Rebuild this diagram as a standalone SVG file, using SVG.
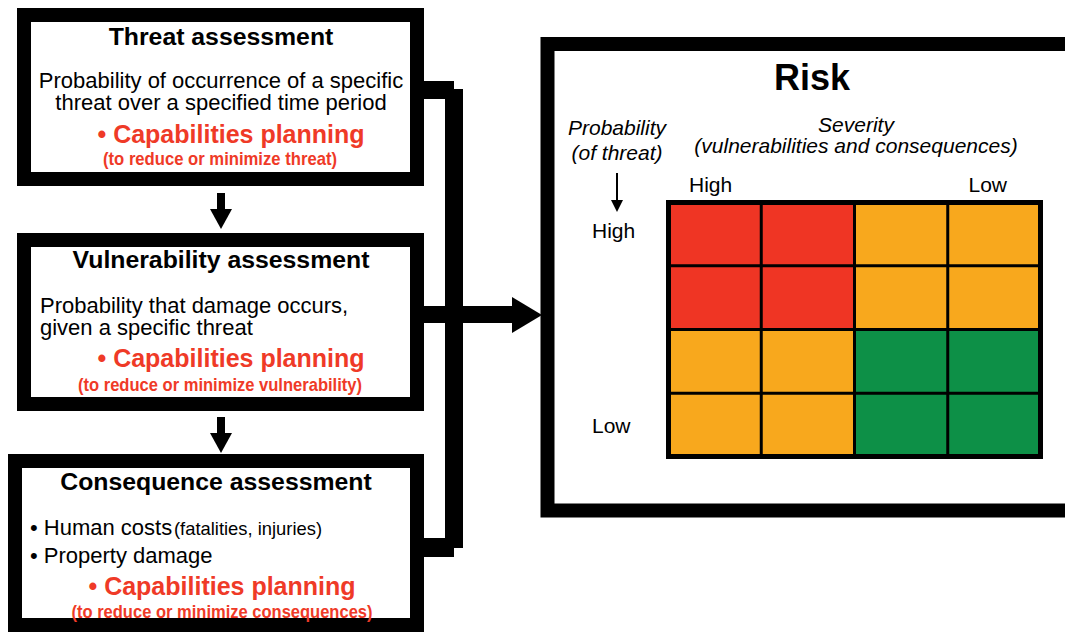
<svg xmlns="http://www.w3.org/2000/svg" width="1065" height="635" viewBox="0 0 1065 635">
<style>
text{font-family:"Liberation Sans",Arial,sans-serif;fill:#000}
.box{fill:#fff;stroke:#000;stroke-width:14}
.ttl{font-weight:bold;font-size:24.8px;text-anchor:middle}
.body{font-size:22px}
.cap{font-weight:bold;font-size:25px;fill:#ef3a27}
.sub{font-weight:bold;font-size:19px;fill:#ef3a27}
.ax{font-size:21px}
.it{font-style:italic;font-size:21px;text-anchor:middle}
.r{fill:#ef3524}.o{fill:#f8a81d}.g{fill:#0d9047}
</style>
<g id="threat">
<rect class="box" x="24" y="15" width="393" height="164"/>
<text class="ttl" x="221" y="45">Threat assessment</text>
<text class="body" x="221" y="88" text-anchor="middle">Probability of occurrence of a specific</text>
<text class="body" x="221" y="110" text-anchor="middle">threat over a specified time period</text>
<text class="cap" x="231" y="143" text-anchor="middle">• Capabilities planning</text>
<text class="sub" x="220" y="165" text-anchor="middle" textLength="234" lengthAdjust="spacingAndGlyphs">(to reduce or minimize threat)</text>
</g>
<g id="vulnerability">
<rect class="box" x="24" y="240" width="393" height="164"/>
<text class="ttl" x="221" y="268">Vulnerability assessment</text>
<text class="body" x="40" y="313">Probability that damage occurs,</text>
<text class="body" x="40" y="335">given a specific threat</text>
<text class="cap" x="231" y="367" text-anchor="middle">• Capabilities planning</text>
<text class="sub" x="220" y="391" text-anchor="middle" textLength="284" lengthAdjust="spacingAndGlyphs">(to reduce or minimize vulnerability)</text>
</g>
<g id="consequence">
<rect class="box" x="15" y="461" width="402" height="164"/>
<text class="ttl" x="216" y="490">Consequence assessment</text>
<text class="body" x="30" y="535">• Human costs <tspan x="174" font-size="19px" textLength="148" lengthAdjust="spacingAndGlyphs">(fatalities, injuries)</tspan></text>
<text class="body" x="30" y="563">• Property damage</text>
<text class="cap" x="222" y="595" text-anchor="middle">• Capabilities planning</text>
<text class="sub" x="222" y="618" text-anchor="middle" textLength="301" lengthAdjust="spacingAndGlyphs">(to reduce or minimize consequences)</text>
</g>
<g id="risk">
<rect class="box" x="547.5" y="44" width="540" height="466.5" stroke-width="13.5"/>
<text x="812" y="90" font-size="36px" font-weight="bold" text-anchor="middle">Risk</text>
<text class="it" x="617" y="135">Probability</text>
<text class="it" x="617" y="160">(of threat)</text>
<text class="it" x="856" y="132">Severity</text>
<text class="it" x="856" y="153">(vulnerabilities and consequences)</text>
<text class="ax" x="689" y="192">High</text>
<text class="ax" x="1007" y="192" text-anchor="end">Low</text>
<text class="ax" x="592" y="238">High</text>
<text class="ax" x="592" y="433">Low</text>
<line x1="617" y1="173" x2="617" y2="202" stroke="#000" stroke-width="2"/>
<polygon points="611,200 623,200 617,212" fill="#000"/>
<g id="grid">
<rect class="r" x="668" y="202" width="93.25" height="63.75"/>
<rect class="r" x="761.25" y="202" width="93.25" height="63.75"/>
<rect class="o" x="854.5" y="202" width="93.25" height="63.75"/>
<rect class="o" x="947.75" y="202" width="93.25" height="63.75"/>
<rect class="r" x="668" y="265.75" width="93.25" height="63.75"/>
<rect class="r" x="761.25" y="265.75" width="93.25" height="63.75"/>
<rect class="o" x="854.5" y="265.75" width="93.25" height="63.75"/>
<rect class="o" x="947.75" y="265.75" width="93.25" height="63.75"/>
<rect class="o" x="668" y="329.5" width="93.25" height="63.75"/>
<rect class="o" x="761.25" y="329.5" width="93.25" height="63.75"/>
<rect class="g" x="854.5" y="329.5" width="93.25" height="63.75"/>
<rect class="g" x="947.75" y="329.5" width="93.25" height="63.75"/>
<rect class="o" x="668" y="393.25" width="93.25" height="63.75"/>
<rect class="o" x="761.25" y="393.25" width="93.25" height="63.75"/>
<rect class="g" x="854.5" y="393.25" width="93.25" height="63.75"/>
<rect class="g" x="947.75" y="393.25" width="93.25" height="63.75"/>
<path d="M761.25 202V457M854.5 202V457M947.75 202V457M668 265.75H1041M668 329.5H1041M668 393.25H1041" stroke="#000" stroke-width="3" fill="none"/>
<rect x="668.5" y="202.5" width="372" height="254" fill="none" stroke="#000" stroke-width="5"/>
</g>
</g>
<g id="connectors" fill="#000">
<rect x="217" y="193" width="8" height="17"/>
<polygon points="210,209 232,209 221,229"/>
<rect x="217" y="417" width="8" height="17"/>
<polygon points="210,433 232,433 221,453"/>
<rect x="423" y="81" width="31" height="18"/>
<rect x="445" y="89" width="18" height="459"/>
<rect x="423" y="538" width="31" height="19"/>
<rect x="423" y="306" width="90" height="17"/>
<polygon points="512,297 542,315 512,333"/>
</g>
</svg>
